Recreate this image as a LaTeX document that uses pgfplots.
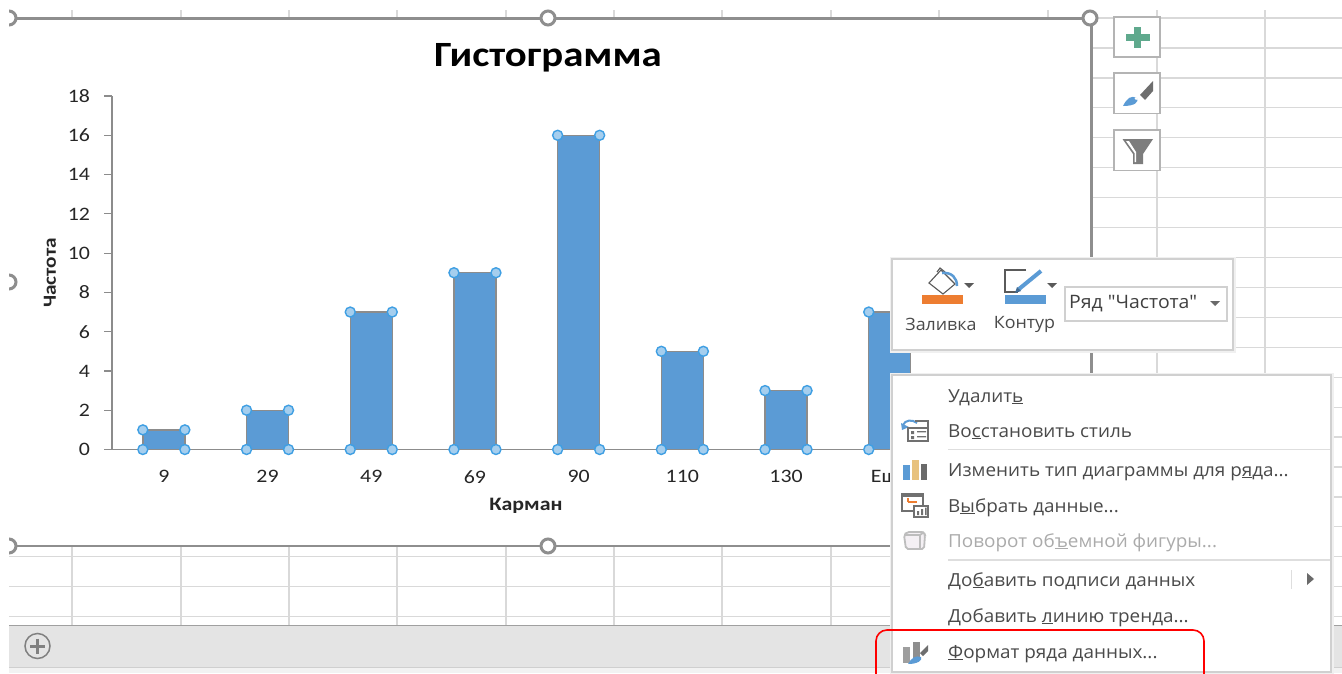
\documentclass[border=0pt]{standalone}
\usepackage{fontspec}
\setmainfont[FakeStretch=1.15]{Carlito}
\newfontfamily\ui[FakeStretch=1.05]{Open Sans}
\usepackage{pgfplots}
\pgfplotsset{compat=1.18}
\definecolor{xlblue}{HTML}{5B9BD5}
\definecolor{xlorange}{HTML}{ED7D31}
\definecolor{gridc}{HTML}{D9D9D9}
\definecolor{axisc}{HTML}{8C8C8C}
\definecolor{frame}{HTML}{8E8E8E}
\definecolor{menutxt}{HTML}{4A4A4A}
\definecolor{menudis}{HTML}{ABABAB}
\definecolor{gE4}{HTML}{E4E4E4}
\definecolor{gA0}{HTML}{A0A0A0}
\definecolor{gCF}{HTML}{CFCFCF}
\definecolor{gF2}{HTML}{F2F2F2}
\definecolor{g80}{HTML}{808080}
\definecolor{gB4}{HTML}{B4B4B4}
\definecolor{plusc}{HTML}{5FA98D}
\definecolor{g6E}{HTML}{6E6E6E}
\definecolor{g7D}{HTML}{7D7D7D}
\definecolor{gED}{HTML}{F0F0F0}
\definecolor{gC8}{HTML}{D0D0D0}
\definecolor{g5A}{HTML}{5A5A5A}
\definecolor{g40}{HTML}{404040}
\definecolor{g6A}{HTML}{6A6A6A}
\definecolor{gDE}{HTML}{DEDEDE}
\definecolor{g70}{HTML}{707070}
\definecolor{tan1}{HTML}{E8C27E}
\definecolor{gBD}{HTML}{BDBDBD}
\definecolor{gF4}{HTML}{F4F0F4}
\definecolor{g9E}{HTML}{9E9E9E}
\definecolor{hfill}{HTML}{A5CEEE}
\definecolor{hdraw}{HTML}{3F9FE3}
\newcommand{\menuitem}[3][menutxt]{\node[anchor=base west,inner sep=0pt,text=#1,font=\ui\fontsize{18}{20}\selectfont] at (948,#2) {#3};}
\begin{document}
\begin{tikzpicture}[x=1pt,y=-1pt]
\useasboundingbox (0,0) rectangle (1342,673);
\clip (0,0) rectangle (1342,673);
\fill[white] (0,0) rectangle (1342,673);
% sheet grid
\foreach \yy in {18,47.9,77.9,107.8,137.7,167.6,197.6,227.5,257.4,287.4,317.3,347.2,377.2,407.1,437,467,496.9,526.8,556.8,586.7,616.7}
  \draw[gridc,line width=1.2] (9,\yy) -- (1342,\yy);
\foreach \xx in {72,181,289,397,506,614,722,831,939,1048,1157,1265}
  \draw[gridc,line width=1.2] (\xx,10) -- (\xx,625);
% chart area
\fill[white] (9,18) rectangle (1090,546);
\begin{axis}[
  at={(112pt,-449.5pt)}, anchor=south west,
  scale only axis, width=829.6pt, height=353.5pt,
  xmin=-0.5, xmax=7.5, ymin=0, ymax=18,
  clip=false,
  axis lines*=left,
  axis line style={axisc,line width=1.4pt,-},
  xtick={0,1,2,3,4,5,6,7},
  xticklabels={9,29,49,69,90,110,130,Еще},
  minor xtick={-0.5,0.5,1.5,2.5,3.5,4.5,5.5,6.5,7.5},
  ytick={0,2,4,6,8,10,12,14,16,18},
  tick align=outside,
  major tick length=7.5pt,
  minor tick length=6pt,
  xtick style={draw=none},
  minor x tick style={axisc,line width=1.2pt},
  ytick style={axisc,line width=1.2pt},
  tick label style={font=\fontsize{19}{20}\selectfont,text=black!85},
  /pgf/number format/assume math mode=true,
  x tick label style={yshift=-10pt},
  y tick label style={xshift=-11pt},
  title={Гистограмма},
  title style={at={(rel axis cs:0.5255,1)},anchor=center,yshift=32pt,font=\bfseries\fontsize{35.5}{38}\selectfont,text=black},
  xlabel={Карман},
  xlabel style={at={(rel axis cs:0.499,0)},anchor=center,yshift=-56pt,font=\bfseries\fontsize{19}{20}\selectfont,text=black!85},
  ylabel={Частота},
  ylabel style={at={(rel axis cs:0,0.5)},anchor=center,yshift=62pt,font=\bfseries\fontsize{18.5}{20}\selectfont,text=black!85},
]
\addplot[ybar,bar width=42pt,fill=xlblue,draw=axisc,line width=1.4pt] coordinates {
 (0,1) (1,2) (2,7) (3,9) (4,16) (5,5) (6,3) (7,7)};
\addplot[only marks,mark=*,mark size=5pt,mark options={fill=hfill,draw=hdraw,line width=1.4pt}] coordinates {
 (-0.2025,0) (0.2025,0) (-0.2025,1) (0.2025,1)
 (0.7975,0) (1.2025,0) (0.7975,2) (1.2025,2)
 (1.7975,0) (2.2025,0) (1.7975,7) (2.2025,7)
 (2.7975,0) (3.2025,0) (2.7975,9) (3.2025,9)
 (3.7975,0) (4.2025,0) (3.7975,16) (4.2025,16)
 (4.7975,0) (5.2025,0) (4.7975,5) (5.2025,5)
 (5.7975,0) (6.2025,0) (5.7975,3) (6.2025,3)
 (6.7975,0) (7.2025,0) (6.7975,7) (7.2025,7)};
\end{axis}
% chart frame
\draw[frame,line width=3] (9,18) -- (1090,18);
\draw[frame,line width=3] (1091,18) -- (1091,546);
\draw[frame,line width=2] (9,546) -- (1091,546);
\draw[frame,line width=3,fill=white] (9,18) circle (7);
\draw[frame,line width=3,fill=white] (548,18) circle (7);
\draw[frame,line width=3,fill=white] (1090,18) circle (7);
\draw[frame,line width=3,fill=white] (9,282) circle (7);
\draw[frame,line width=3,fill=white] (9,546) circle (7);
\draw[frame,line width=3,fill=white] (548,546) circle (7);
\fill[white] (0,0) rectangle (9,625);
% sheet tab bar
\fill[gE4] (9,625) rectangle (1342,667);
\draw[gA0,line width=1.3] (9,625.5) -- (1342,625.5);
\draw[gCF,line width=1] (9,667) -- (1342,667);
\fill[gF2] (9,667.5) rectangle (1342,673);
\fill[white] (0,625) rectangle (9,673);
\draw[g80,line width=1.5] (37.5,646) circle (12.5);
\draw[g80,line width=3] (30,646) -- (45,646) (37.5,638.5) -- (37.5,653.5);
% side buttons
\foreach \a/\b in {17/57,73/113.5,130/170.5}
  \draw[gB4,line width=1.5,fill=white] (1114,\a) rectangle (1160,\b);
\fill[plusc] (1133.5,26.5) rectangle (1141,47.5);
\fill[plusc] (1125.5,33.5) rectangle (1149.5,41);
\fill[xlblue] (1123,106) .. controls (1127,98) and (1131,95) .. (1137,98) .. controls (1139,102) and (1135,106) .. (1123,106) -- cycle;
\fill[g6E] (1140,95) -- (1153,81) -- (1153,91) -- (1145,100) -- cycle;
\fill[white] (1136,98.5) circle (1.5);
\fill[g7D] (1122.5,139) -- (1153,139) -- (1143,154) -- (1143,164) -- (1133,164) -- (1133,154) -- cycle;
\fill[white] (1126,141) -- (1129,141) -- (1136,152) -- (1136,162) -- (1134.5,162) -- (1134.5,153) -- cycle;
% shadowed panel
\fill[gED] (890,257) rectangle (1236,353);
\draw[gC8,line width=1.3,fill=white] (892,259) rectangle (1233,350);
% bucket icon
\draw[g5A,line width=1.1,fill=white] (929,283) -- (941,270) -- (955,284) -- (943,294) -- cycle;
\draw[g5A,line width=1.1] (937,272) -- (940,268) -- (945,272);
\draw[xlblue,line width=2.5] (942,273) .. controls (952,272) and (957,278) .. (957,286);
\fill[g5A] (964,283) -- (974,283) -- (969,288) -- cycle;
\fill[xlorange] (921.5,295) rectangle (963,304);
% pen icon
\draw[g5A,line width=1.2] (1026,270) -- (1005,270) -- (1005,292) -- (1018,292);
\draw[xlblue,line width=4] (1019,289) -- (1041,271);
\fill[xlblue!70!black] (1015,293) -- (1017,287) -- (1021,291) -- cycle;
\fill[g5A] (1047,283) -- (1057,283) -- (1052,288) -- cycle;
\fill[xlblue] (1005,295) rectangle (1046,304);
\node[anchor=center,inner sep=0,text=menutxt,font=\ui\fontsize{17}{18}\selectfont] at (941,324) {Заливка};
\node[anchor=center,inner sep=0,text=menutxt,font=\ui\fontsize{17}{18}\selectfont] at (1024.5,324) {Контур};
\draw[gC8,line width=1.1,fill=white] (1065,287) rectangle (1227,321);
\node[anchor=base west,inner sep=0,text=g40,font=\ui\fontsize{18.5}{20}\selectfont] at (1069,308) {Ряд "Частота"};
\fill[g6A] (1210,301) -- (1220,301) -- (1215,306) -- cycle;
% context menu
\fill[gED] (890,373) rectangle (1334,675);
\draw[gC8,line width=1.3,fill=white] (892,375) rectangle (1331,672);
\menuitem{402}{Удалит\underline{ь}}
\menuitem{437}{Во\underline{с}становить стиль}
\menuitem{476}{Изменить тип диаграммы для р\underline{я}да...}
\menuitem{512}{В\underline{ы}брать данные...}
\menuitem[menudis]{547}{Поворот об\underline{ъ}емной фигуры...}
\menuitem{586}{До\underline{б}авить подписи данных}
\menuitem{622}{Добавить \underline{л}инию тренда...}
\menuitem{658}{\underline{Ф}ормат ряда данных...}
\draw[gDE,line width=1.2] (948,449.5) -- (1330,449.5);
\draw[gDE,line width=1.2] (948,560) -- (1330,560);
\draw[gDE,line width=1] (1291,570) -- (1291,589);
\fill[g6A] (1307,573) -- (1314,579) -- (1307,585) -- cycle;
% icon: restore style
\draw[xlblue,line width=2] (903,425) .. controls (905,420) and (912,419) .. (917,423);
\fill[xlblue] (901,423) -- (909,427) -- (902,430) -- cycle;
\draw[g70,line width=1.1,fill=white] (908,428) rectangle (928,441);
\fill[g70] (911,431) rectangle (914,434) (917,431) rectangle (926,432.3) (911,436) rectangle (914,439) (917,436) rectangle (926,437.3);
\draw[g70,line width=1.1] (915,421) -- (928,421) -- (928,428);
% icon: chart type
\fill[xlblue] (903,465) rectangle (910,480);
\fill[tan1] (912,460) rectangle (919,480);
\fill[g6A] (921,464) rectangle (927,480);
% icon: select data
\draw[g70,line width=1.1,fill=white] (902,494) rectangle (923,511);
\fill[g70] (902,494) rectangle (923,497);
\draw[xlorange,line width=1.2] (908,502) -- (908,498) (908,502) -- (917,502);
\draw[g70,line width=1.1,fill=white] (914,506) rectangle (928,517);
\fill[g70] (917,511) rectangle (919,515) (921,509) rectangle (923,515) (925,507.5) rectangle (926.5,515);
% icon: 3D
\draw[gBD,line width=1.8,fill=gF4,rounded corners=2] (904,535) -- (907,532) -- (924,532) -- (925,535) -- (924,549) -- (906,549) -- cycle;
\draw[gBD,line width=1.8] (904,535) -- (920,535) -- (924,532) (920,535) -- (920,549);
% icon: format series
\fill[g9E] (903,647) rectangle (910,663);
\fill[frame] (913,642) rectangle (919.5,660);
\fill[g6E] (920,653) -- (928,645) -- (928,651) -- (923,656) -- cycle;
\fill[xlblue] (908,664) .. controls (911,658) and (916,655) .. (921,657) .. controls (923,660) and (918,664) .. (908,664) -- cycle;
% red highlight
\draw[red,line width=1.6,rounded corners=11] (876,690) -- (876,630) -- (1204,630) -- (1204,690);
\end{tikzpicture}
\end{document}
